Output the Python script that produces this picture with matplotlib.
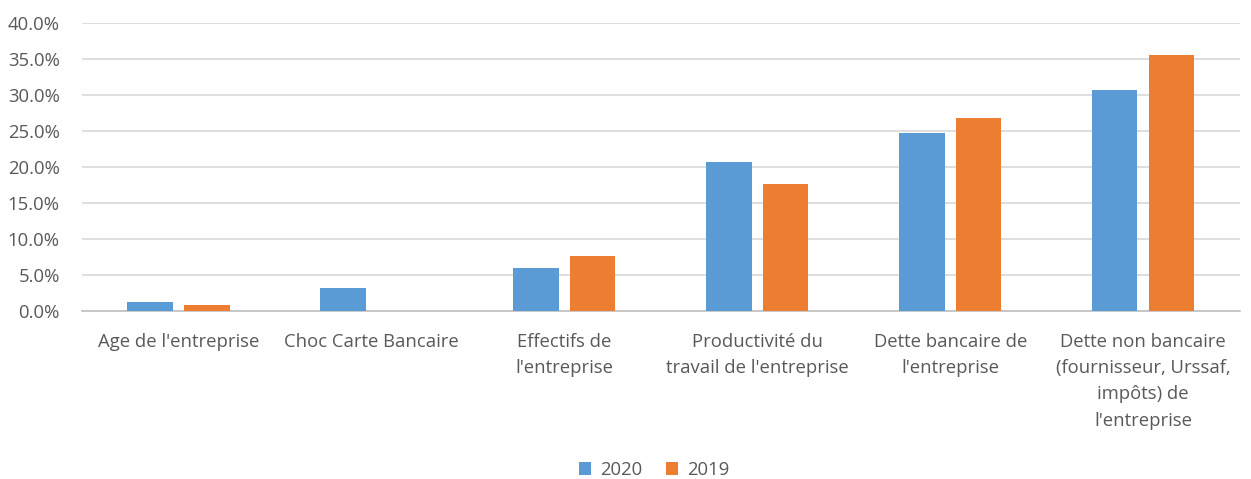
import numpy as np
import matplotlib
matplotlib.use('Agg')
import matplotlib.pyplot as plt
from matplotlib.ticker import FuncFormatter

# categories and values (percent)
categories = ["Age de l'entreprise", "Choc Carte Bancaire", "Effectifs de\nl'entreprise",
              "Productivité du\ntravail de l'entreprise", "Dette bancaire de\nl'entreprise",
              "Dette non bancaire\n(fournisseur, Urssaf,\nimpôts) de\nl'entreprise"]
v2020 = [1.25, 3.2, 6.0, 20.7, 24.7, 30.7]
v2019 = [0.8, 0.0, 7.6, 17.6, 26.8, 35.6]
series_labels = ['2020', '2019']

plt.rcParams['font.family'] = ['Open Sans', 'DejaVu Sans']
grey = '#595959'
fs = 13.3

fig = plt.figure(figsize=(12.51, 4.79), dpi=100)
ax = fig.add_axes([0.0655, 0.3507, 0.9255, 0.6013])

x = np.arange(len(categories))
w = 0.235
gap = 0.06
ax.bar(x - (w + gap) / 2, v2020, w, color='#5B9BD5', label=series_labels[0], zorder=3)
ax.bar(x + (w + gap) / 2, v2019, w, color='#ED7D31', label=series_labels[1], zorder=3)

ax.set_xlim(-0.5, len(categories) - 0.5)
ax.set_ylim(0, 40)
ax.set_yticks(np.arange(0, 41, 5))
ax.yaxis.set_major_formatter(FuncFormatter(lambda v, p: f'{v:.1f}%'))
ax.grid(axis='y', color='#d9d9d9', linewidth=1.2, zorder=0)
ax.set_xticks(x)
ax.set_xticklabels(categories, linespacing=1.58, va='top')

for s in ['top', 'right', 'left']:
    ax.spines[s].set_visible(False)
ax.spines['bottom'].set_color('#bfbfbf')
ax.spines['bottom'].set_linewidth(1.2)
ax.tick_params(axis='both', length=0, colors=grey, labelsize=fs)
ax.tick_params(axis='x', pad=16)
ax.tick_params(axis='y', pad=16)

fig.legend(loc='lower center', bbox_to_anchor=(0.523, -0.035), ncol=2, frameon=False,
           fontsize=fs, labelcolor=grey, handlelength=0.65, handleheight=0.65,
           handletextpad=0.5, columnspacing=1.3)

fig.savefig('out.png', dpi=100)
